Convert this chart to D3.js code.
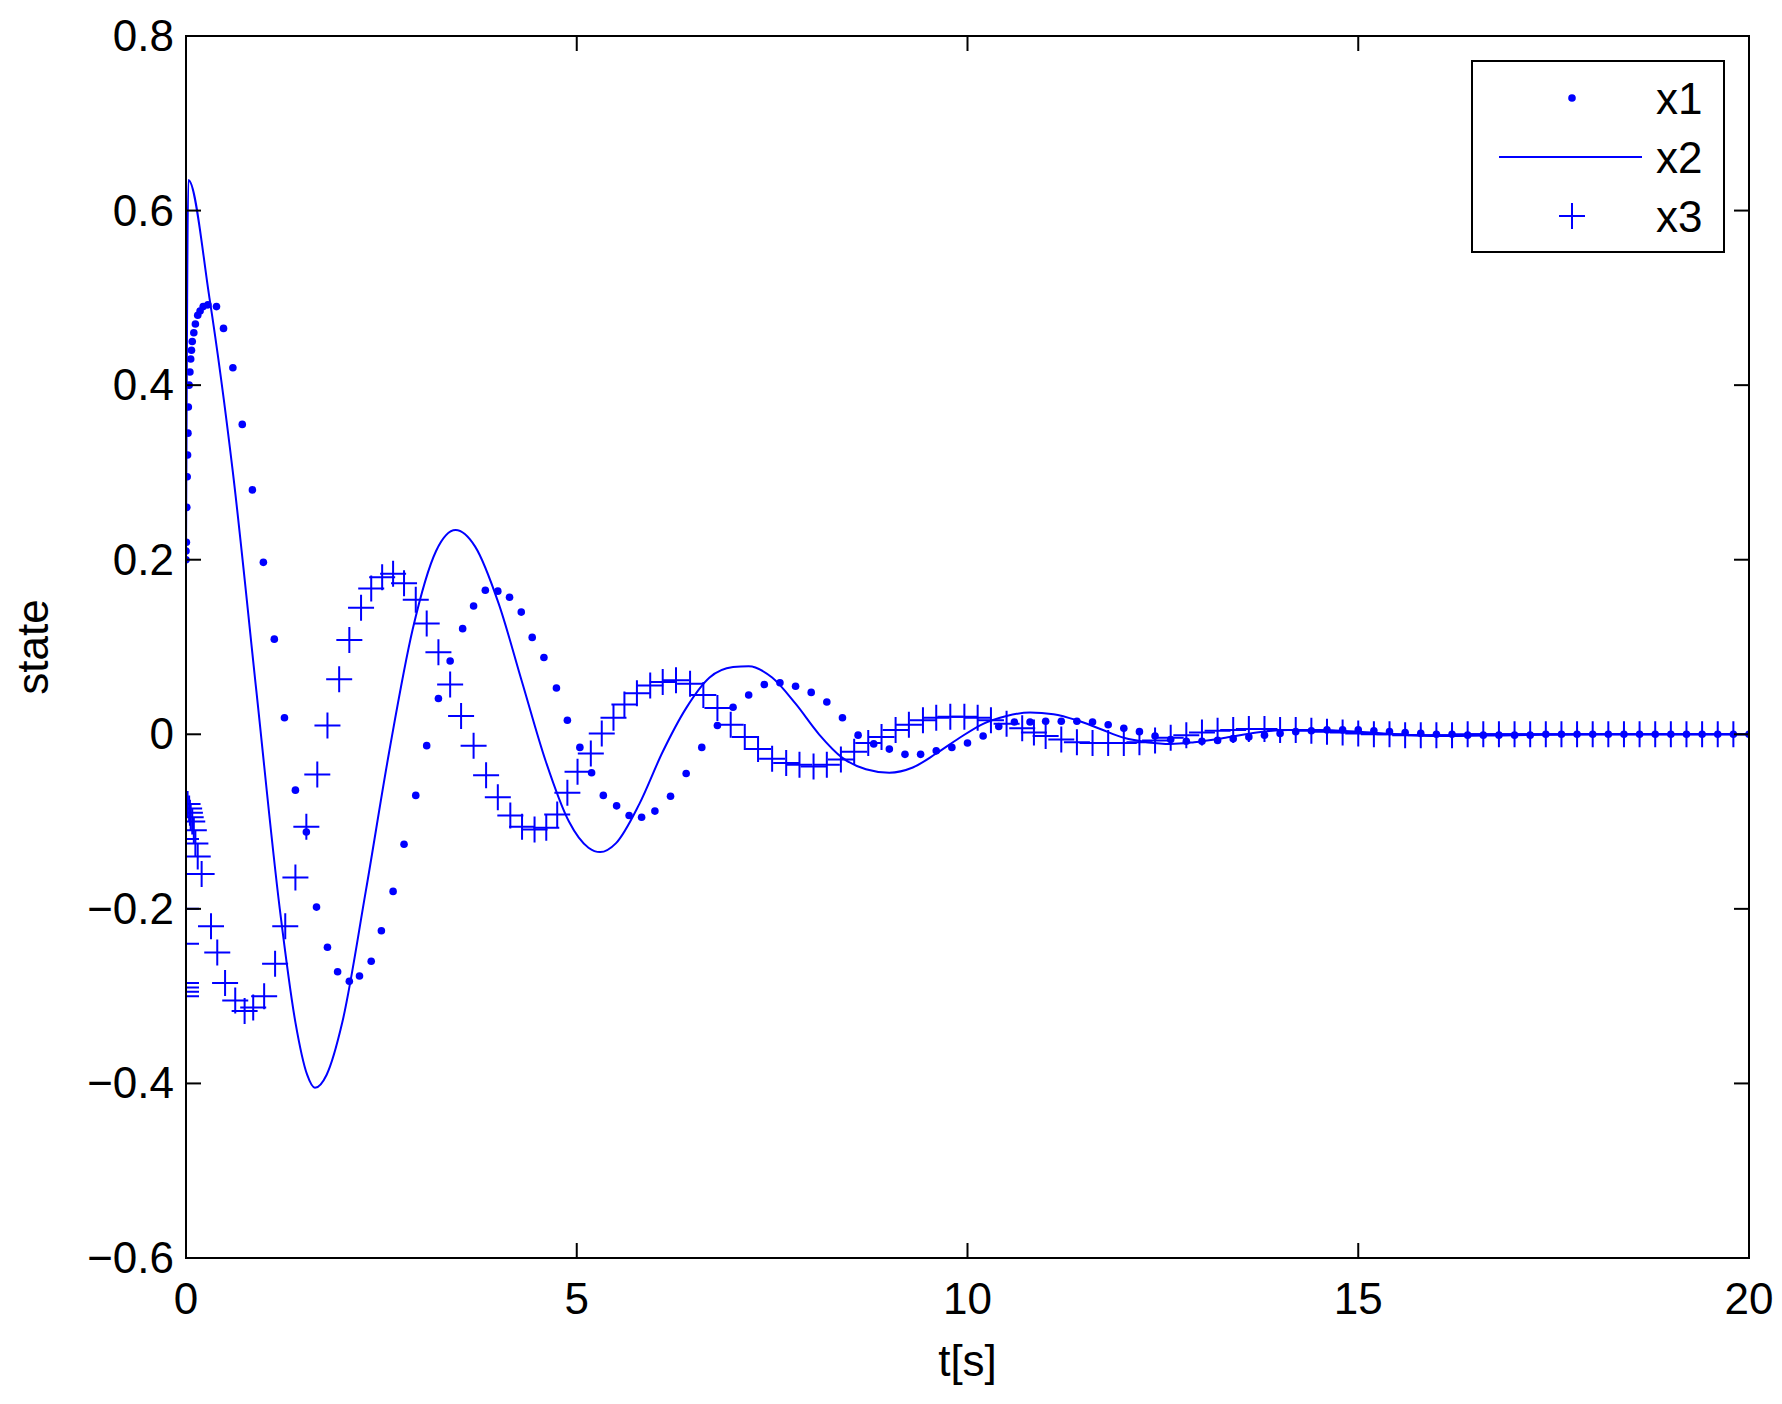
<!DOCTYPE html>
<html>
<head>
<meta charset="utf-8">
<script src="https://cdn.jsdelivr.net/npm/d3@7"></script>
<style>
  body { margin: 0; background: #fff; }
  text { font-family: "Liberation Sans", Arial, sans-serif; }
</style>
</head>
<body>
<svg id="chart"></svg>
<script>
// x1 (dots)
const x1T = [0,0,0.005,0.01,0.015,0.02,0.025,0.03,0.04,0.05,0.06,0.07,0.08,0.1,0.12,0.15,0.18,0.22,0.28,0.39,0.48,0.6,0.72,0.85,0.99,1.13,1.26,1.40,1.54,1.67,1.81,1.94,2.09,2.22,2.37,2.50,2.65,2.79,2.94,3.08,3.23,3.38,3.54,3.68,3.83,3.99,4.14,4.29,4.43,4.58,4.74,4.88,5.04,5.19,5.34,5.51,5.67,5.83,6.0,6.2,6.4,6.6,6.8,7.0,7.2,7.4,7.6,7.8,8.0,8.2,8.4,8.6,8.8,9.0,9.2,9.4,9.6,9.8,10.0,10.2,10.4,10.6,10.8,11.0,11.2,11.4,11.6,11.8,12.0,12.2,12.4,12.6,12.8,13.0,13.2,13.4,13.6,13.8,14.0,14.2,14.4,14.6,14.8,15.0,15.2,15.4,15.6,15.8,16.0,16.2,16.4,16.6,16.8,17.0,17.2,17.4,17.6,17.8,18.0,18.2,18.4,18.6,18.8,19.0,19.2,19.4,19.6,19.8,20.0];
const x1V = [0.20,0.21,0.22,0.26,0.295,0.32,0.345,0.375,0.40,0.415,0.43,0.44,0.45,0.46,0.47,0.48,0.485,0.49,0.492,0.49,0.465,0.42,0.355,0.28,0.197,0.109,0.019,-0.064,-0.112,-0.198,-0.244,-0.272,-0.283,-0.277,-0.26,-0.225,-0.18,-0.126,-0.07,-0.013,0.041,0.084,0.121,0.147,0.165,0.164,0.157,0.14,0.111,0.088,0.053,0.016,-0.015,-0.044,-0.07,-0.082,-0.093,-0.095,-0.088,-0.071,-0.045,-0.015,0.010,0.031,0.045,0.057,0.059,0.055,0.048,0.037,0.019,-0.001,-0.011,-0.017,-0.023,-0.023,-0.019,-0.015,-0.010,-0.002,0.009,0.014,0.014,0.015,0.015,0.015,0.014,0.011,0.007,0.003,-0.002,-0.006,-0.008,-0.008,-0.007,-0.005,-0.003,-0.001,0.001,0.003,0.004,0.005,0.005,0.005,0.004,0.003,0.002,0.001,0.0,0.0,-0.001,-0.001,-0.001,-0.001,-0.001,0.0,0.0,0.0,0.0,0.0,0.0,0.0,0.0,0.0,0.0,0.0,0.0,0.0,0.0,0.0];

// x2 (solid line)
const x2T = [0,0.03,0.3,0.6,0.9,1.2,1.4,1.55,1.65,1.8,2.0,2.3,2.6,2.9,3.2,3.45,3.7,4.0,4.3,4.6,4.9,5.15,5.3,5.5,5.8,6.1,6.4,6.7,7.0,7.2,7.5,7.8,8.1,8.4,8.7,9.0,9.3,9.6,9.9,10.2,10.5,10.8,11.1,11.4,11.7,12.0,12.3,12.6,12.9,13.3,13.7,14.1,14.5,15.0,15.5,16.0,17.0,18.0,19.0,20.0];
const x2V = [0.20,0.635,0.50,0.30,0.05,-0.20,-0.33,-0.39,-0.405,-0.39,-0.33,-0.18,-0.02,0.12,0.21,0.234,0.215,0.15,0.06,-0.03,-0.10,-0.13,-0.135,-0.125,-0.08,-0.02,0.03,0.065,0.077,0.078,0.065,0.035,0.0,-0.027,-0.04,-0.044,-0.038,-0.022,-0.004,0.012,0.021,0.025,0.023,0.016,0.006,-0.004,-0.009,-0.011,-0.009,-0.004,0.002,0.005,0.005,0.003,0.0,-0.002,-0.001,0.0,0.0,0.0];

// x3 (plus markers)
const x3T = [0,0,0,0,0,0,0,0,0.02,0.04,0.05,0.06,0.08,0.1,0.12,0.15,0.2,0.32,0.4,0.5,0.63,0.75,0.86,1.0,1.14,1.27,1.4,1.54,1.68,1.81,1.96,2.09,2.24,2.37,2.51,2.65,2.79,2.94,3.08,3.23,3.38,3.52,3.68,3.84,3.99,4.15,4.30,4.46,4.61,4.75,4.88,5.01,5.18,5.32,5.47,5.61,5.77,5.94,6.1,6.27,6.45,6.62,6.8,6.97,7.15,7.32,7.5,7.68,7.85,8.03,8.2,8.38,8.55,8.73,8.9,9.08,9.25,9.43,9.6,9.78,9.96,10.13,10.3,10.5,10.7,10.85,11.0,11.2,11.4,11.6,11.8,12.0,12.2,12.4,12.6,12.8,13.0,13.2,13.4,13.6,13.8,14.0,14.2,14.4,14.6,14.8,15.0,15.2,15.4,15.6,15.8,16.0,16.2,16.4,16.6,16.8,17.0,17.2,17.4,17.6,17.8,18.0,18.2,18.4,18.6,18.8,19.0,19.2,19.4,19.6,19.8,20.0];
const x3V = [-0.29,-0.295,-0.30,-0.285,-0.24,-0.20,-0.16,-0.12,-0.08,-0.085,-0.09,-0.095,-0.10,-0.11,-0.125,-0.14,-0.16,-0.22,-0.25,-0.285,-0.305,-0.317,-0.313,-0.30,-0.263,-0.22,-0.164,-0.106,-0.046,0.01,0.063,0.108,0.145,0.167,0.18,0.184,0.173,0.154,0.127,0.094,0.057,0.021,-0.013,-0.047,-0.072,-0.093,-0.106,-0.109,-0.107,-0.092,-0.067,-0.043,-0.022,0.001,0.019,0.034,0.047,0.056,0.06,0.062,0.058,0.045,0.03,0.011,-0.003,-0.017,-0.028,-0.033,-0.035,-0.037,-0.035,-0.029,-0.02,-0.01,-0.003,0.005,0.011,0.016,0.019,0.02,0.02,0.019,0.016,0.012,0.007,0.002,-0.002,-0.006,-0.009,-0.01,-0.01,-0.01,-0.009,-0.007,-0.004,-0.001,0.002,0.004,0.005,0.006,0.006,0.005,0.005,0.004,0.003,0.002,0.001,0.0,0.0,-0.001,-0.001,-0.001,-0.001,0.0,0.0,0.0,0.0,0.0,0.0,0.0,0.0,0.0,0.0,0.0,0.0,0.0,0.0,0.0,0.0,0.0,0.0,0.0,0.0,0.0];

const xTicks = [0, 5, 10, 15, 20];
const yTicks = [-0.6, -0.4, -0.2, 0, 0.2, 0.4, 0.6, 0.8];

const width = 1782, height = 1404;
const margin = { left: 186, right: 33, top: 36, bottom: 146 };
const blue = '#0000ff';

const svg = d3.select('#chart').attr('width', width).attr('height', height);

const x = d3.scaleLinear().domain([0, 20]).range([margin.left, width - margin.right]);
const y = d3.scaleLinear().domain([-0.6, 0.8]).range([height - margin.bottom, margin.top]);

const fmt = d => d === 0 ? '0' : String(d).replace('-', '\u2212');

const clip = svg.append('clipPath').attr('id', 'clip').append('rect')
  .attr('x', margin.left).attr('y', margin.top)
  .attr('width', x(20) - x(0)).attr('height', y(-0.6) - y(0.8));

const plot = svg.append('g').attr('clip-path', 'url(#clip)');

// x2 line
plot.append('path')
  .datum(d3.zip(x2T, x2V))
  .attr('d', d3.line().x(d => x(d[0])).y(d => y(d[1])).curve(d3.curveMonotoneX))
  .attr('fill', 'none').attr('stroke', blue).attr('stroke-width', 2);

// x1 dots
plot.selectAll('circle.x1').data(d3.zip(x1T, x1V)).enter().append('circle')
  .attr('cx', d => x(d[0])).attr('cy', d => y(d[1])).attr('r', 3.8).attr('fill', blue);

// x3 pluses
const plus = 'M-13,0H13M0,-13V13';
plot.selectAll('path.x3').data(d3.zip(x3T, x3V)).enter().append('path')
  .attr('d', plus).attr('transform', d => `translate(${x(d[0])},${y(d[1])})`)
  .attr('stroke', blue).attr('stroke-width', 2).attr('fill', 'none');

// axes box and ticks (inward, mirrored)
const axes = svg.append('g').attr('stroke', '#000').attr('stroke-width', 2);
axes.append('rect').attr('x', x(0)).attr('y', y(0.8)).attr('width', x(20) - x(0)).attr('height', y(-0.6) - y(0.8)).attr('fill', 'none');
const tl = 15;
xTicks.forEach(t => {
  axes.append('line').attr('x1', x(t)).attr('x2', x(t)).attr('y1', y(-0.6)).attr('y2', y(-0.6) - tl);
  axes.append('line').attr('x1', x(t)).attr('x2', x(t)).attr('y1', y(0.8)).attr('y2', y(0.8) + tl);
});
yTicks.forEach(t => {
  axes.append('line').attr('x1', x(0)).attr('x2', x(0) + tl).attr('y1', y(t)).attr('y2', y(t));
  axes.append('line').attr('x1', x(20)).attr('x2', x(20) - tl).attr('y1', y(t)).attr('y2', y(t));
});

svg.selectAll('text.xt').data(xTicks).enter().append('text')
  .attr('x', d => x(d)).attr('y', y(-0.6) + 56).attr('text-anchor', 'middle')
  .attr('font-size', 44).text(fmt);
svg.selectAll('text.yt').data(yTicks).enter().append('text')
  .attr('x', x(0) - 12).attr('y', d => y(d) + 15).attr('text-anchor', 'end')
  .attr('font-size', 44).text(fmt);

svg.append('text').attr('x', (x(0) + x(20)) / 2).attr('y', height - 28)
  .attr('text-anchor', 'middle').attr('font-size', 44).text('t[s]');
svg.append('text').attr('transform', `translate(48,${(y(0.8) + y(-0.6)) / 2}) rotate(-90)`)
  .attr('text-anchor', 'middle').attr('font-size', 44).text('state');

// legend
const lg = svg.append('g').attr('transform', 'translate(1472,61)');
lg.append('rect').attr('width', 252).attr('height', 191).attr('fill', '#fff').attr('stroke', '#000').attr('stroke-width', 2);
const rows = [37, 96, 155];
lg.append('circle').attr('cx', 100).attr('cy', rows[0]).attr('r', 3.8).attr('fill', blue);
lg.append('line').attr('x1', 27).attr('x2', 170).attr('y1', rows[1]).attr('y2', rows[1]).attr('stroke', blue).attr('stroke-width', 2);
lg.append('path').attr('d', plus).attr('transform', `translate(100,${rows[2]})`).attr('stroke', blue).attr('stroke-width', 2);
['x1', 'x2', 'x3'].forEach((s, i) => {
  lg.append('text').attr('x', 184).attr('y', rows[i] + 16).attr('font-size', 44).text(s);
});
</script>
</body>
</html>
